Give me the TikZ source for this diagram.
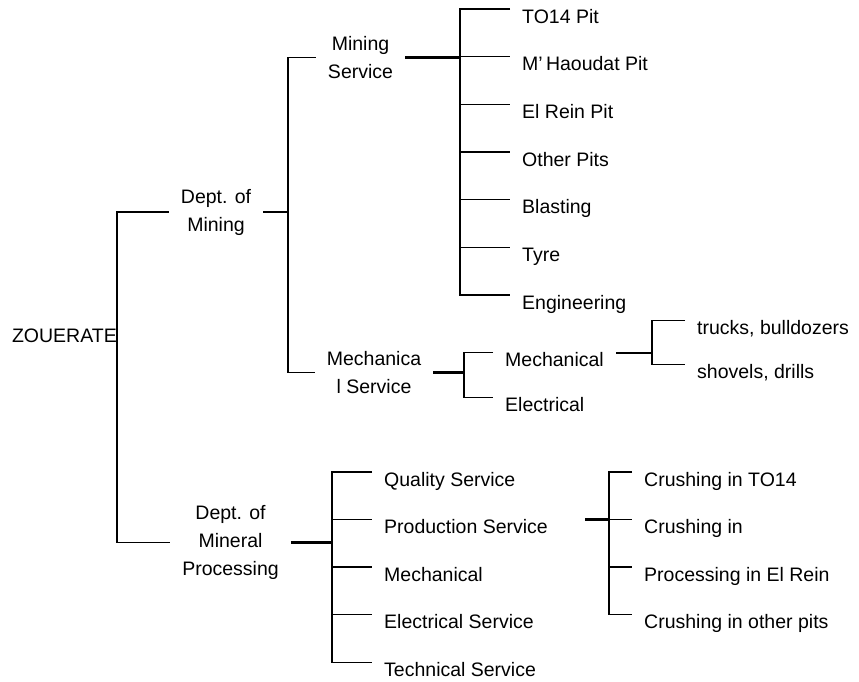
\documentclass[tikz,border=0pt]{standalone}
\usepackage{fontspec}
\setmainfont{Liberation Sans}
\begin{document}
\begin{tikzpicture}[x=1pt,y=-1pt,
  every node/.style={font=\fontsize{19.5pt}{28pt}\selectfont, inner ysep=0pt},
  unit/.style={align=center, inner xsep=12pt},
  leaf/.style={anchor=north west, inner xsep=12pt, text height=14pt, text depth=4pt},
  link/.style={line width=1.4pt},
  trunk/.style={line width=2.8pt},
  midlink/.style={line width=1.8pt}]
\useasboundingbox (0,0) rectangle (859,681);

% organisation units
\node[anchor=base east, inner xsep=0pt, text height=14pt, text depth=0pt] (root) at (117,342) {ZOUERATE};
\node[unit] (dm)  at (216,212)     {Dept. of\\Mining};
\node[unit] (ms)  at (360.5,57.7)  {Mining\\Service};
\node[unit] (mcs) at (374,372.7)   {Mechanica\\l Service};
\node[unit] (mp)  at (230.5,542.3) {Dept. of\\Mineral\\Processing};

% pits and sections of the mining service
\node[leaf] (tp) at (510,9.0)   {TO14 Pit};
\node[leaf] (mh) at (510,56.7)  {M’\,Haoudat Pit};
\node[leaf] (er) at (510,104.3) {El Rein Pit};
\node[leaf] (op) at (510,152.0) {Other Pits};
\node[leaf] (bl) at (510,199.7) {Blasting};
\node[leaf] (ty) at (510,247.3) {Tyre};
\node[leaf] (en) at (510,295.0) {Engineering};

% mechanical service
\node[leaf] (me) at (493,352.7) {Mechanical};
\node[leaf] (el) at (493,397.7) {Electrical};
\node[leaf] (tr) at (685,320.7) {trucks, bulldozers};
\node[leaf] (sh) at (685,364.3) {shovels, drills};

% mineral processing
\node[leaf] (qs) at (372,472.0) {Quality Service};
\node[leaf] (ps) at (372,519.3) {Production Service};
\node[leaf] (mc) at (372,567.0) {Mechanical};
\node[leaf] (es) at (372,614.7) {Electrical Service};
\node[leaf] (ts) at (372,662.3) {Technical Service};

\node[leaf] (c1) at (632,472.0) {Crushing in TO14};
\node[leaf] (c2) at (632,519.3) {Crushing in};
\node[leaf] (c3) at (632,567.0) {Processing in El Rein};
\node[leaf] (c4) at (632,614.7) {Crushing in other pits};

% bus junctions
\coordinate (b1) at (288,212);
\coordinate (b2) at (460,57.7);
\coordinate (b3) at (464,372.7);
\coordinate (b4) at (652,352.7);
\coordinate (b5) at (332,542.3);
\coordinate (b6) at (609,519.3);

% connectors
\draw[link] (dm.west) -| (root.east) |- (mp.west);

\draw[trunk] (dm.east) -- (b1);
\draw[link] (ms.west) -| (b1) |- (mcs.west);

\draw[trunk] (ms.east) -- (b2);
\draw[link] (tp.north west) -| (b2) |- (en.north west);
\foreach \n in {mh,er,op,bl,ty}
  \draw[link] (b2 |- \n.north west) -- (\n.north west);

\draw[trunk] (mcs.east) -- (b3);
\draw[link] (me.north west) -| (b3) |- (el.north west);

\draw[midlink] (me.north east) -- (b4);
\draw[link] (tr.north west) -| (b4) |- (sh.north west);

\draw[trunk] (mp.east) -- (b5);
\draw[link] (qs.north west) -| (b5) |- (ts.north west);
\foreach \n in {ps,mc,es}
  \draw[link] (b5 |- \n.north west) -- (\n.north west);

\draw[trunk] ([xshift=25pt]ps.north east) -- (b6);
\draw[link] (c1.north west) -| (b6) |- (c4.north west);
\foreach \n in {c2,c3}
  \draw[link] (b6 |- \n.north west) -- (\n.north west);
\end{tikzpicture}
\end{document}
